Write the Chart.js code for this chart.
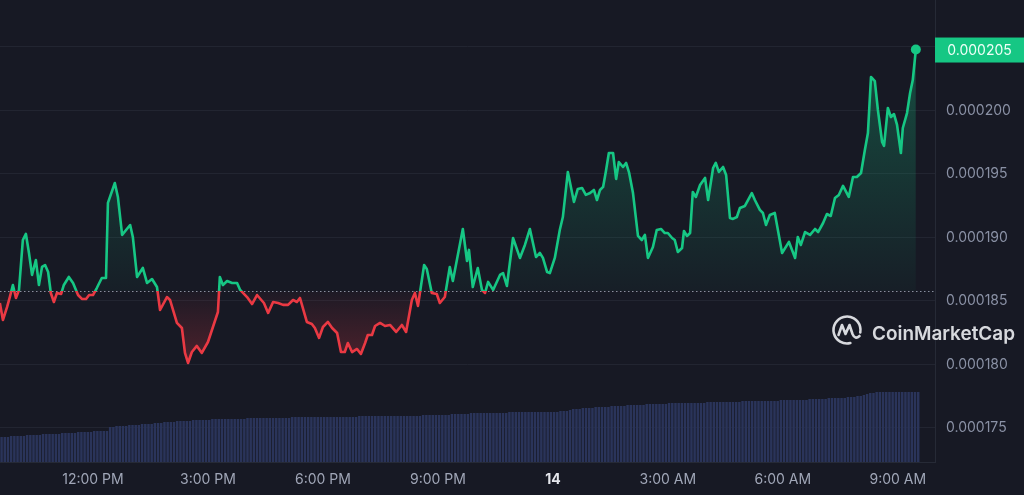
<!DOCTYPE html>
<html>
<head>
<meta charset="utf-8">
<script src="https://cdn.jsdelivr.net/npm/chart.js@4.4.1/dist/chart.umd.min.js"></script>
<style>
  html, body { margin: 0; padding: 0; background: #171924; }
</style>
</head>
<body>
<canvas id="priceChart" width="1024" height="495"></canvas>
<script>
// time in hours after 12:00 PM on the 13th
var times = [
  -2.43, -2.35, -2.24, -2.17, -2.09, -2.01, -1.93, -1.83, -1.75, -1.67, -1.59, -1.49, -1.41, -1.33, -1.25, -1.17,
  -1.10, -1.02, -0.94, -0.83, -0.76, -0.63, -0.52, -0.39, -0.29, -0.18, -0.10, 0.00, 0.10, 0.23, 0.34, 0.39,
  0.57, 0.65, 0.76, 0.97, 1.04, 1.15, 1.30, 1.41, 1.54, 1.67, 1.75, 1.93, 2.01, 2.19, 2.32, 2.40,
  2.48, 2.58, 2.71, 2.84, 3.00, 3.13, 3.26, 3.31, 3.39, 3.50, 3.63, 3.76, 3.84, 4.02, 4.15, 4.28,
  4.46, 4.57, 4.70, 4.83, 4.96, 5.09, 5.22, 5.32, 5.40, 5.58, 5.71, 5.79, 5.90, 6.00, 6.13, 6.24,
  6.37, 6.47, 6.57, 6.65, 6.76, 6.89, 6.99, 7.10, 7.17, 7.28, 7.36, 7.49, 7.62, 7.75, 7.91, 8.06,
  8.17, 8.32, 8.40, 8.48, 8.64, 8.71, 8.84, 8.97, 9.05, 9.18, 9.31, 9.39, 9.65, 9.76, 9.81, 9.91,
  10.04, 10.15, 10.23, 10.31, 10.44, 10.62, 10.70, 10.80, 10.96, 11.14, 11.27, 11.40, 11.56, 11.66, 11.74, 11.85,
  11.92, 12.05, 12.18, 12.26, 12.39, 12.55, 12.65, 12.76, 12.86, 12.97, 13.07, 13.15, 13.23, 13.31, 13.38, 13.46,
  13.57, 13.65, 13.72, 13.83, 13.91, 13.99, 14.09, 14.22, 14.32, 14.40, 14.48, 14.61, 14.71, 14.82, 14.92, 15.00,
  15.11, 15.18, 15.26, 15.37, 15.42, 15.50, 15.58, 15.65, 15.73, 15.84, 15.97, 16.05, 16.18, 16.25, 16.33, 16.44,
  16.52, 16.62, 16.70, 16.80, 16.88, 17.01, 17.19, 17.27, 17.40, 17.48, 17.56, 17.66, 17.79, 17.98, 18.16, 18.32,
  18.39, 18.47, 18.58, 18.71, 18.84, 18.92, 19.05, 19.15, 19.25, 19.36, 19.46, 19.57, 19.72, 19.83, 19.93, 20.04,
  20.14, 20.22, 20.30, 20.40, 20.48, 20.59, 20.64, 20.74, 20.82, 20.90, 20.98, 21.08, 21.13, 21.24, 21.32, 21.39,
  21.47
];
var prices = [
  184.84e-6, 183.50e-6, 184.53e-6, 185.31e-6, 186.26e-6, 185.24e-6, 185.87e-6, 189.80e-6, 190.28e-6, 188.78e-6, 187.05e-6, 188.23e-6, 186.26e-6, 187.68e-6, 187.83e-6, 187.28e-6,
  185.63e-6, 184.92e-6, 185.63e-6, 185.55e-6, 186.26e-6, 186.89e-6, 186.42e-6, 185.47e-6, 185.16e-6, 185.16e-6, 185.47e-6, 185.47e-6, 186.02e-6, 186.81e-6, 186.81e-6, 192.72e-6,
  194.29e-6, 193.19e-6, 190.20e-6, 190.98e-6, 190.04e-6, 186.89e-6, 187.60e-6, 186.42e-6, 186.73e-6, 186.10e-6, 184.29e-6, 185.31e-6, 185.08e-6, 183.27e-6, 182.87e-6, 180.91e-6,
  180.12e-6, 180.98e-6, 181.46e-6, 180.91e-6, 181.77e-6, 182.95e-6, 184.13e-6, 186.89e-6, 186.26e-6, 186.57e-6, 186.42e-6, 186.42e-6, 185.87e-6, 185.31e-6, 184.76e-6, 185.47e-6,
  184.84e-6, 184.06e-6, 184.92e-6, 184.84e-6, 184.69e-6, 184.69e-6, 185.08e-6, 184.92e-6, 185.24e-6, 183.35e-6, 183.19e-6, 182.87e-6, 182.09e-6, 182.95e-6, 183.35e-6, 182.87e-6,
  182.48e-6, 180.98e-6, 180.98e-6, 181.69e-6, 180.98e-6, 181.22e-6, 180.83e-6, 181.69e-6, 182.32e-6, 182.32e-6, 183.03e-6, 183.27e-6, 183.03e-6, 183.11e-6, 182.56e-6, 183.11e-6,
  182.56e-6, 185.08e-6, 185.63e-6, 184.61e-6, 187.83e-6, 187.52e-6, 185.63e-6, 185.55e-6, 184.84e-6, 185.31e-6, 187.68e-6, 186.57e-6, 190.67e-6, 188.15e-6, 189.02e-6, 186.10e-6,
  187.60e-6, 185.87e-6, 185.63e-6, 186.50e-6, 185.87e-6, 187.05e-6, 187.20e-6, 186.18e-6, 189.96e-6, 188.39e-6, 189.41e-6, 190.67e-6, 188.46e-6, 188.78e-6, 188.39e-6, 187.28e-6,
  187.20e-6, 188.39e-6, 190.59e-6, 191.61e-6, 195.16e-6, 192.80e-6, 193.82e-6, 193.90e-6, 193.35e-6, 193.50e-6, 193.74e-6, 192.95e-6, 193.74e-6, 193.98e-6, 195.16e-6, 196.65e-6,
  196.65e-6, 194.61e-6, 195.94e-6, 195.55e-6, 195.87e-6, 195.08e-6, 193.50e-6, 190.12e-6, 189.80e-6, 190.20e-6, 188.39e-6, 189.25e-6, 190.59e-6, 190.67e-6, 190.35e-6, 190.35e-6,
  189.96e-6, 189.80e-6, 188.86e-6, 189.17e-6, 190.51e-6, 190.12e-6, 190.35e-6, 193.58e-6, 193.19e-6, 194.13e-6, 194.69e-6, 192.95e-6, 195.47e-6, 195.87e-6, 195.16e-6, 195.55e-6,
  194.92e-6, 191.54e-6, 191.46e-6, 191.61e-6, 192.32e-6, 192.48e-6, 193.50e-6, 192.95e-6, 192.17e-6, 191.93e-6, 190.98e-6, 191.77e-6, 191.93e-6, 188.78e-6, 189.65e-6, 188.39e-6,
  190.04e-6, 189.41e-6, 190.43e-6, 190.20e-6, 190.67e-6, 190.43e-6, 191.14e-6, 191.85e-6, 191.69e-6, 193.11e-6, 193.35e-6, 194.06e-6, 193.19e-6, 194.76e-6, 194.76e-6, 195.08e-6,
  196.89e-6, 198.23e-6, 202.64e-6, 202.32e-6, 200.04e-6, 197.52e-6, 197.21e-6, 200.20e-6, 199.49e-6, 199.72e-6, 198.86e-6, 196.65e-6, 198.62e-6, 199.80e-6, 201.38e-6, 202.40e-6,
  204.80e-6
];
var openPrice = 185.75e-6;

// 5-minute volume bars (relative units), first bar at 9:37 AM
var volStart = -2.385;
var volStep = 5 / 60;
var volumes = [
  25, 25, 25, 26, 26, 26, 26, 26, 27, 27, 27, 27, 27, 28, 28, 28, 28, 28, 28, 29, 29, 29, 29, 29,
  30, 30, 30, 30, 30, 31, 31, 31, 31, 31, 35, 35, 36, 36, 36, 36, 37, 37, 37, 37, 38, 38, 38, 38,
  39, 39, 39, 40, 40, 40, 40, 41, 41, 41, 41, 41, 42, 42, 42, 42, 42, 42, 43, 43, 43, 43, 43, 43,
  43, 43, 43, 43, 43, 44, 44, 44, 44, 44, 44, 44, 44, 44, 44, 44, 44, 44, 44, 45, 45, 45, 45, 45,
  45, 45, 45, 45, 45, 45, 45, 45, 45, 45, 45, 45, 45, 45, 45, 45, 46, 46, 46, 46, 46, 46, 46, 46,
  46, 46, 46, 46, 46, 46, 46, 46, 46, 46, 46, 46, 47, 47, 47, 47, 47, 47, 47, 47, 47, 48, 48, 48,
  48, 48, 48, 49, 49, 49, 49, 49, 49, 49, 49, 49, 49, 49, 49, 50, 50, 50, 50, 50, 50, 50, 50, 50,
  50, 50, 50, 50, 50, 50, 50, 51, 51, 51, 52, 53, 53, 53, 54, 54, 54, 54, 55, 55, 55, 55, 55, 56,
  56, 56, 56, 56, 57, 57, 57, 57, 57, 57, 58, 58, 58, 58, 58, 58, 58, 59, 59, 59, 59, 59, 59, 59,
  59, 59, 59, 59, 59, 60, 60, 60, 60, 60, 60, 60, 60, 60, 60, 60, 61, 61, 61, 61, 61, 61, 61, 61,
  61, 61, 61, 61, 62, 62, 62, 62, 62, 62, 62, 62, 62, 63, 63, 63, 63, 63, 63, 64, 64, 64, 64, 64,
  64, 65, 65, 65, 66, 66, 67, 68, 69, 69, 70, 70, 70, 70, 70, 70, 70, 70, 70, 70, 70, 70, 70, 70
];

var tickHours = [0, 3, 6, 9, 12, 15, 18, 21];
var tickLabels = ['12:00 PM', '3:00 PM', '6:00 PM', '9:00 PM', '14', '3:00 AM', '6:00 AM', '9:00 AM'];
var priceTicks = [175e-6, 180e-6, 185e-6, 190e-6, 195e-6, 200e-6, 205e-6];

var green = '#16c784';
var red = '#ea3943';

function baseY(chart) {
  return chart.scales.y.getPixelForValue(openPrice);
}

function lineGradient(chart) {
  var a = chart.chartArea;
  if (!a) return green;
  var f = (baseY(chart) - a.top) / (a.bottom - a.top);
  var g = chart.ctx.createLinearGradient(0, a.top, 0, a.bottom);
  g.addColorStop(0, green);
  g.addColorStop(f, green);
  g.addColorStop(f, red);
  g.addColorStop(1, red);
  return g;
}

function areaGradient(chart) {
  var a = chart.chartArea;
  if (!a) return 'transparent';
  var y = chart.scales.y;
  var top = y.getPixelForValue(Math.max.apply(null, prices));
  var bot = y.getPixelForValue(Math.min.apply(null, prices));
  var f = (baseY(chart) - top) / (bot - top);
  var g = chart.ctx.createLinearGradient(0, top, 0, bot);
  g.addColorStop(0, 'rgba(22,199,132,0.30)');
  g.addColorStop(f, 'rgba(22,199,132,0.03)');
  g.addColorStop(f, 'rgba(234,57,67,0.03)');
  g.addColorStop(1, 'rgba(234,57,67,0.26)');
  return g;
}

// drop the half-label padding chart.js keeps around the axes
function noPad(s) {
  s.paddingTop = 0;
  s.paddingBottom = 0;
  s.paddingLeft = 0;
  s.paddingRight = 0;
}

var backdrop = {
  id: 'backdrop',
  beforeDraw: function (chart) {
    var c = chart.ctx;
    c.save();
    c.fillStyle = '#171924';
    c.fillRect(0, 0, chart.width, chart.height);
    c.restore();
  },
  beforeDatasetsDraw: function (chart) {
    var c = chart.ctx, a = chart.chartArea;
    var y = Math.round(baseY(chart)) + 0.5;
    c.save();
    c.setLineDash([1.5, 2.5]);
    c.strokeStyle = 'rgba(165,172,190,0.8)';
    c.lineWidth = 1;
    c.beginPath();
    c.moveTo(a.left, y);
    c.lineTo(a.right, y);
    c.stroke();
    c.restore();
  },
  afterDraw: function (chart) {
    var c = chart.ctx, a = chart.chartArea;
    // current price badge
    var last = prices[prices.length - 1];
    var yl = chart.scales.y.getPixelForValue(last);
    c.save();
    c.fillStyle = green;
    c.fillRect(a.right, yl - 12, chart.width - a.right, 25);
    c.fillStyle = '#eefff7';
    c.font = '14px Inter';
    c.textAlign = 'center';
    c.textBaseline = 'middle';
    c.fillText(last.toFixed(6), a.right + (chart.width - a.right) / 2, yl + 1);

    // watermark
    var cx = 847, cy = 330;
    c.strokeStyle = 'rgba(232,233,238,0.92)';
    c.lineWidth = 2.6;
    c.lineCap = 'round';
    c.lineJoin = 'round';
    c.beginPath();
    c.arc(cx, cy, 13.5, 0.42 * Math.PI, 2.06 * Math.PI);
    c.stroke();
    c.beginPath();
    c.moveTo(cx - 8.5, cy + 5);
    c.lineTo(cx - 5, cy - 5);
    c.lineTo(cx - 1.5, cy + 4);
    c.lineTo(cx + 2.5, cy - 5);
    c.lineTo(cx + 5.5, cy + 4);
    c.quadraticCurveTo(cx + 8, cy + 10, cx + 12.5, cy + 6);
    c.stroke();
    c.fillStyle = 'rgba(232,233,238,0.92)';
    c.font = '600 20px Inter';
    var w = c.measureText('CoinMarketCap').width;
    c.font = '600 ' + (20 * 143 / w).toFixed(2) + 'px Inter';
    c.textAlign = 'left';
    c.textBaseline = 'alphabetic';
    c.fillText('CoinMarketCap', 872, 340);
    c.restore();
  }
};

var ctx = document.getElementById('priceChart').getContext('2d');
var priceChart = new Chart(ctx, {
  data: {
    datasets: [{
      type: 'line',
      data: times.map(function (t, i) { return { x: t, y: prices[i] }; }),
      xAxisID: 'x',
      yAxisID: 'y',
      borderWidth: 2.6,
      borderJoinStyle: 'round',
      tension: 0,
      borderColor: function (c) { return lineGradient(c.chart); },
      backgroundColor: function (c) { return areaGradient(c.chart); },
      fill: { value: openPrice },
      pointRadius: function (c) { return c.dataIndex === prices.length - 1 ? 5 : 0; },
      pointBackgroundColor: green,
      pointBorderWidth: 0,
      clip: false,
      order: 1
    }, {
      type: 'bar',
      data: volumes.map(function (v, i) { return { x: volStart + i * volStep, y: v }; }),
      xAxisID: 'x',
      yAxisID: 'yVol',
      backgroundColor: '#2a345a',
      barPercentage: 0.78,
      categoryPercentage: 1,
      order: 2
    }]
  },
  options: {
    responsive: false,
    animation: false,
    events: [],
    layout: { padding: 0, autoPadding: false },
    plugins: {
      legend: { display: false },
      tooltip: { enabled: false }
    },
    scales: {
      x: {
        type: 'linear',
        min: -2.426,
        max: 21.97,
        offset: false,
        afterBuildTicks: function (s) { s.ticks = tickHours.map(function (v) { return { value: v }; }); },
        afterFit: function (s) { s.height = 33; noPad(s); },
        grid: { display: false, drawTicks: false },
        border: { display: true, color: '#262a36' },
        ticks: {
          padding: 9,
          maxRotation: 0,
          autoSkip: false,
          color: function (c) { return c.index === 4 ? '#e4e6ec' : '#a0a6b7'; },
          font: function (c) { return { family: 'Inter', size: 14, weight: c.index === 4 ? '700' : '400' }; },
          callback: function (v, i) { return tickLabels[i]; }
        }
      },
      y: {
        position: 'right',
        min: 172.32e-6,
        max: 208.70e-6,
        afterBuildTicks: function (s) { s.ticks = priceTicks.map(function (v) { return { value: v }; }); },
        afterFit: function (s) { s.width = 89; noPad(s); },
        grid: { color: '#222531', drawTicks: false },
        border: { display: true, color: '#262a36' },
        ticks: {
          padding: 11,
          color: '#8a91a5',
          font: { family: 'Inter', size: 14 },
          callback: function (v) { return v.toFixed(6); }
        }
      },
      yVol: {
        display: false,
        min: 0,
        max: 462
      }
    }
  },
  plugins: [backdrop]
});
</script>
</body>
</html>
